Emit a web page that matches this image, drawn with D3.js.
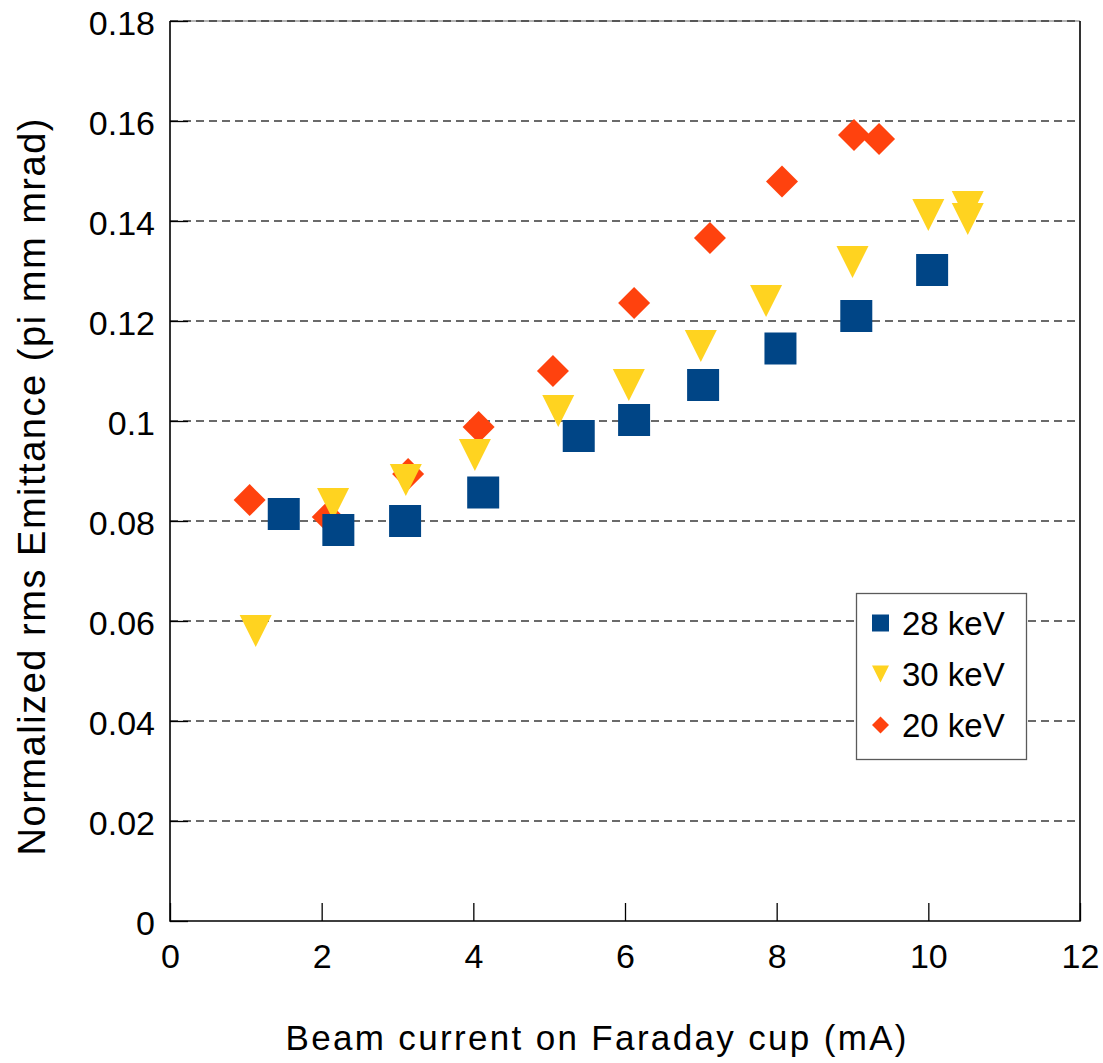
<!DOCTYPE html>
<html>
<head>
<meta charset="utf-8">
<script src="https://cdn.jsdelivr.net/npm/d3@7/dist/d3.min.js"></script>
<style>
  html, body { margin: 0; padding: 0; background: #ffffff; }
  svg { display: block; font-family: "Liberation Sans", Arial, sans-serif; }
</style>
</head>
<body>
<svg id="chart" width="1103" height="1063"></svg>
<script>
// Emittance measurements, one array per beam energy
const series28x = [1.50, 2.22, 3.10, 4.13, 5.39, 6.12, 7.03, 8.05, 9.05, 10.05];
const series28y = [0.0814, 0.0782, 0.0800, 0.0857, 0.0970, 0.1002, 0.1072, 0.1145, 0.1210, 0.1302];

const series30x = [1.13, 2.15, 3.11, 4.02, 5.12, 6.05, 7.00, 7.86, 9.00, 10.00, 10.52, 10.52];
const series30y = [0.0580, 0.0834, 0.0882, 0.0932, 0.1020, 0.1072, 0.1150, 0.1240, 0.1318, 0.1412, 0.1428, 0.1404];

const series20x = [1.05, 2.08, 3.14, 4.07, 5.05, 6.12, 7.12, 8.07, 9.02, 9.35];
const series20y = [0.0842, 0.0808, 0.0894, 0.0988, 0.1100, 0.1236, 0.1366, 0.1479, 0.1572, 0.1564];

const legendLabels = ["28 keV", "30 keV", "20 keV"];
const xTicks = [0, 2, 4, 6, 8, 10, 12];
const yTicks = [0, 0.02, 0.04, 0.06, 0.08, 0.1, 0.12, 0.14, 0.16, 0.18];
const xTitle = "Beam current on Faraday cup (mA)";
const yTitle = "Normalized rms Emittance (pi mm mrad)";

const colors = { s28: "#004586", s30: "#ffd320", s20: "#ff420e" };

const svg = d3.select("#chart");
const plot = { left: 170, right: 1080, top: 21, bottom: 921 };

const x = d3.scaleLinear().domain([0, 12]).range([plot.left, plot.right]);
const y = d3.scaleLinear().domain([0, 0.18]).range([plot.bottom, plot.top]);

// marker shapes centred on the origin
function squarePath(s) { const h = s / 2; return `M${-h},${-h}H${h}V${h}H${-h}Z`; }
function triDownPath(s) { const h = s / 2; return `M${-h},${-h}L${h},${-h}L0,${h}Z`; }
function diamondPath(s) { const h = s / 2; return `M0,${-h}L${h},0L0,${h}L${-h},0Z`; }

// top frame line (light) under the grid
svg.append("line")
  .attr("x1", plot.left).attr("x2", plot.right)
  .attr("y1", plot.top).attr("y2", plot.top)
  .attr("stroke", "#9a9a9a").attr("stroke-width", 1.5);

// dashed horizontal grid
svg.append("g").selectAll("line")
  .data(yTicks.filter(d => d > 0))
  .join("line")
  .attr("x1", plot.left).attr("x2", plot.right)
  .attr("y1", d => y(d)).attr("y2", d => y(d))
  .attr("stroke", "#3a3a3a").attr("stroke-width", 1.3)
  .attr("stroke-dasharray", "8,5");

// frame: left, bottom, right
svg.append("path")
  .attr("d", `M${plot.left},${plot.top}V${plot.bottom}H${plot.right}V${plot.top}`)
  .attr("fill", "none").attr("stroke", "#000").attr("stroke-width", 1.6);

// axes with inward ticks
const xAxis = d3.axisBottom(x).tickValues(xTicks).tickSize(-18).tickPadding(30)
  .tickFormat(d3.format("d"));
const gx = svg.append("g").attr("transform", `translate(0,${plot.bottom})`).call(xAxis);
gx.select(".domain").remove();
gx.selectAll(".tick line").attr("stroke", "#000").attr("stroke-width", 1.3);
gx.selectAll(".tick text")
  .attr("font-size", 34).attr("fill", "#000")
  .attr("font-family", "Liberation Sans, Arial, sans-serif")
  .attr("dy", "0.72em").attr("y", 23);

const yAxis = d3.axisLeft(y).tickValues(yTicks).tickSize(-18).tickPadding(15)
  .tickFormat(d => d === 0 ? "0" : d3.format("")(+d.toFixed(2)));
const gy = svg.append("g").attr("transform", `translate(${plot.left},0)`).call(yAxis);
gy.select(".domain").remove();
gy.selectAll(".tick line").attr("stroke", "#000").attr("stroke-width", 1.3);
gy.selectAll(".tick text")
  .attr("font-size", 34).attr("fill", "#000")
  .attr("font-family", "Liberation Sans, Arial, sans-serif")
  .attr("x", -15).attr("dy", "0.4em");

// data markers: 20 keV underneath, then 30 keV, then 28 keV on top
const markerSize = 32;
const layers = [
  { xs: series20x, ys: series20y, path: diamondPath, color: colors.s20 },
  { xs: series30x, ys: series30y, path: triDownPath, color: colors.s30 },
  { xs: series28x, ys: series28y, path: squarePath, color: colors.s28 }
];
layers.forEach(layer => {
  svg.append("g").selectAll("path")
    .data(layer.xs.map((v, i) => [v, layer.ys[i]]))
    .join("path")
    .attr("d", layer.path(markerSize))
    .attr("transform", d => `translate(${x(d[0])},${y(d[1])})`)
    .attr("fill", layer.color);
});

// legend
const legend = svg.append("g");
legend.append("rect")
  .attr("x", 856.5).attr("y", 593.5).attr("width", 170).attr("height", 166)
  .attr("fill", "#fff").attr("stroke", "#5a5a5a").attr("stroke-width", 1.3);
const legendItems = [
  { label: legendLabels[0], path: squarePath, color: colors.s28 },
  { label: legendLabels[1], path: triDownPath, color: colors.s30 },
  { label: legendLabels[2], path: diamondPath, color: colors.s20 }
];
legendItems.forEach((item, i) => {
  const cy = 623 + i * 51;
  legend.append("path")
    .attr("d", item.path(17))
    .attr("transform", `translate(880.5,${cy})`)
    .attr("fill", item.color);
  legend.append("text")
    .attr("x", 902).attr("y", cy + 12)
    .attr("font-size", 33).attr("fill", "#000")
    .text(item.label);
});

// axis titles
svg.append("text")
  .attr("x", 596).attr("y", 1050)
  .attr("text-anchor", "middle")
  .attr("font-size", 35).attr("fill", "#000")
  .attr("textLength", 621).attr("lengthAdjust", "spacing")
  .text(xTitle);

svg.append("text")
  .attr("transform", "translate(45,487) rotate(-90)")
  .attr("text-anchor", "middle")
  .attr("font-size", 38).attr("fill", "#000")
  .attr("textLength", 737).attr("lengthAdjust", "spacing")
  .text(yTitle);
</script>
</body>
</html>
